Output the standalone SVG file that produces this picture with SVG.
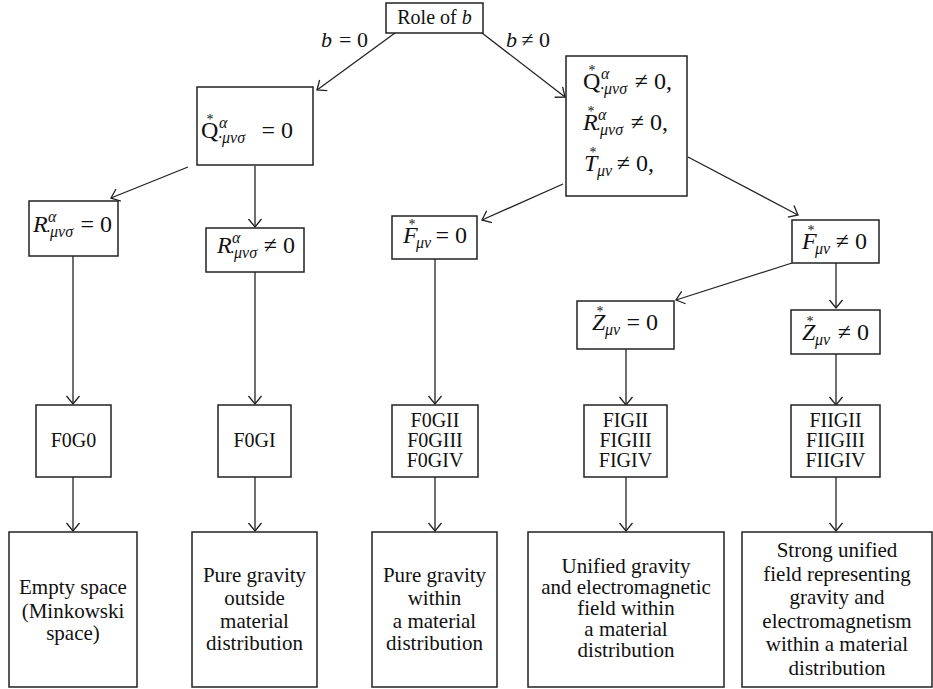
<svg xmlns="http://www.w3.org/2000/svg" width="933" height="689" viewBox="0 0 933 689">
<defs>
<marker id="arr" markerUnits="userSpaceOnUse" viewBox="-10 -8 12 16" refX="0" refY="0" markerWidth="12" markerHeight="16" orient="auto">
<path d="M-8,-6.5 L0,0 L-8,6.5" fill="none" stroke="#222" stroke-width="1.3"/>
</marker>
<style>
rect{fill:#fff;stroke:#222;stroke-width:1.5}
.c line{stroke:#222;stroke-width:1.3;marker-end:url(#arr)}
text{font-family:"Liberation Serif","DejaVu Serif",serif;fill:#111}
.t{font-size:20px;text-anchor:middle}
.d{font-size:21px;text-anchor:middle}
.m{font-size:24px}
.mi{font-size:24px;font-style:italic}
.e{font-size:24px;text-anchor:end}
.l{font-size:22px}
.li{font-size:22px;font-style:italic}
.le{font-size:22px;text-anchor:end}
.s{font-size:16px;font-style:italic}
.a{font-size:14px;text-anchor:middle}
</style>
</defs>
<g class="c" id="connectors">
<line x1="395" y1="33" x2="317" y2="90"/>
<line x1="482" y1="33" x2="565" y2="97"/>
<line x1="188" y1="167" x2="111" y2="198"/>
<line x1="255" y1="166" x2="255" y2="227"/>
<line x1="563" y1="184" x2="482" y2="220"/>
<line x1="688" y1="157" x2="798" y2="215"/>
<line x1="792" y1="263" x2="676" y2="300"/>
<line x1="836" y1="263" x2="836" y2="308"/>
<line x1="73" y1="256" x2="73" y2="404"/>
<line x1="255" y1="272" x2="255" y2="404"/>
<line x1="435" y1="259" x2="435" y2="404"/>
<line x1="626" y1="349" x2="626" y2="405"/>
<line x1="836" y1="354" x2="836" y2="405"/>
<line x1="73" y1="477" x2="73" y2="531"/>
<line x1="255" y1="477" x2="255" y2="531"/>
<line x1="435" y1="477" x2="435" y2="531"/>
<line x1="626" y1="477" x2="626" y2="531"/>
<line x1="836" y1="477" x2="836" y2="531"/>
</g>
<g id="edge-labels">
<text x="321" y="47" class="li">b</text><text x="368" y="47" class="le">= 0</text>
<text x="506" y="47" class="li">b</text><text x="550" y="47" class="le">≠ 0</text>
</g>
<g id="root">
<rect x="386" y="3" width="97" height="30"/>
<text x="434.5" y="24" class="t">Role of <tspan font-style="italic">b</tspan></text>
</g>
<g id="q-zero">
<rect x="197" y="87" width="116" height="78"/>
<text x="201" y="138" class="m">Q</text><text x="210" y="124" class="a">*</text>
<text x="219" y="128" class="s">α</text><text x="218" y="143" class="s">·μνσ</text>
<text x="293" y="138" class="e">= 0</text>
</g>
<g id="q-nonzero">
<rect x="566" y="56" width="121" height="140"/>
<text x="583" y="89" class="m">Q</text><text x="592" y="75" class="a">*</text>
<text x="601" y="79" class="s">α</text><text x="600" y="94" class="s">·μνσ</text>
<text x="672" y="89" class="e">≠ 0,</text>
<text x="583" y="130" class="mi">R</text><text x="591" y="116" class="a">*</text>
<text x="598" y="120" class="s">α</text><text x="596" y="135" class="s">·μνσ</text>
<text x="668" y="130" class="e">≠ 0,</text>
<text x="584" y="171" class="mi">T</text><text x="593" y="157" class="a">*</text>
<text x="597" y="176" class="s">μν</text>
<text x="654" y="171" class="e">≠ 0,</text>
</g>
<g id="r-zero">
<rect x="29" y="201" width="89" height="55"/>
<text x="33" y="232" class="mi">R</text>
<text x="48" y="222" class="s">α</text><text x="46" y="237" class="s">·μνσ</text>
<text x="112" y="232" class="e">= 0</text>
</g>
<g id="r-nonzero">
<rect x="206" y="228" width="98" height="44"/>
<text x="217" y="253" class="mi">R</text>
<text x="232" y="243" class="s">α</text><text x="230" y="258" class="s">·μνσ</text>
<text x="295" y="253" class="e">≠ 0</text>
</g>
<g id="f-zero">
<rect x="392" y="216" width="85" height="43"/>
<text x="403" y="243" class="mi">F</text><text x="412" y="229" class="a">*</text>
<text x="416" y="248" class="s">μν</text>
<text x="467" y="243" class="e">= 0</text>
</g>
<g id="f-nonzero">
<rect x="792" y="220" width="87" height="43"/>
<text x="802" y="249" class="mi">F</text><text x="811" y="235" class="a">*</text>
<text x="815" y="254" class="s">μν</text>
<text x="867" y="249" class="e">≠ 0</text>
</g>
<g id="z-zero">
<rect x="577" y="301" width="97" height="48"/>
<text x="592" y="330" class="mi">Z</text><text x="600" y="316" class="a">*</text>
<text x="605" y="335" class="s">μν</text>
<text x="658" y="330" class="e">= 0</text>
</g>
<g id="z-nonzero">
<rect x="791" y="310" width="89" height="44"/>
<text x="802" y="340" class="mi">Z</text><text x="810" y="326" class="a">*</text>
<text x="815" y="345" class="s">μν</text>
<text x="869" y="340" class="e">≠ 0</text>
</g>
<g id="f0g0">
<rect x="36" y="405" width="75" height="72"/>
<text x="73.5" y="447" class="t">F0G0</text>
</g>
<g id="f0gi">
<rect x="218" y="405" width="73" height="72"/>
<text x="254.5" y="447" class="t">F0GI</text>
</g>
<g id="f0gii">
<rect x="392" y="405" width="86" height="72"/>
<text x="435" y="427" class="t">F0GII</text>
<text x="435" y="447" class="t">F0GIII</text>
<text x="435" y="467" class="t">F0GIV</text>
</g>
<g id="figii">
<rect x="584" y="405" width="83" height="72"/>
<text x="625.5" y="427" class="t">FIGII</text>
<text x="625.5" y="447" class="t">FIGIII</text>
<text x="625.5" y="467" class="t">FIGIV</text>
</g>
<g id="fiigii">
<rect x="791" y="405" width="89" height="72"/>
<text x="835.5" y="427" class="t">FIIGII</text>
<text x="835.5" y="447" class="t">FIIGIII</text>
<text x="835.5" y="467" class="t">FIIGIV</text>
</g>
<g id="empty-space">
<rect x="9" y="532" width="128" height="155"/>
<text x="73" y="594" class="d">Empty space</text>
<text x="73" y="618" class="d">(Minkowski</text>
<text x="73" y="640" class="d">space)</text>
</g>
<g id="pure-outside">
<rect x="192" y="532" width="125" height="155"/>
<text x="254.5" y="582" class="d">Pure gravity</text>
<text x="254.5" y="605" class="d">outside</text>
<text x="254.5" y="628" class="d">material</text>
<text x="254.5" y="650" class="d">distribution</text>
</g>
<g id="pure-within">
<rect x="372" y="532" width="125" height="155"/>
<text x="434.5" y="582" class="d">Pure gravity</text>
<text x="434.5" y="605" class="d">within</text>
<text x="434.5" y="628" class="d">a material</text>
<text x="434.5" y="650" class="d">distribution</text>
</g>
<g id="unified">
<rect x="528" y="532" width="196" height="155"/>
<text x="626" y="573" class="d">Unified gravity</text>
<text x="626" y="594" class="d">and electromagnetic</text>
<text x="626" y="615" class="d">field within</text>
<text x="626" y="636" class="d">a material</text>
<text x="626" y="657" class="d">distribution</text>
</g>
<g id="strong-unified">
<rect x="742" y="532" width="190" height="155"/>
<text x="837" y="557" class="d">Strong unified</text>
<text x="837" y="580.5" class="d">field representing</text>
<text x="837" y="604" class="d">gravity and</text>
<text x="837" y="627.5" class="d">electromagnetism</text>
<text x="837" y="651" class="d">within a material</text>
<text x="837" y="674.5" class="d">distribution</text>
</g>
</svg>
